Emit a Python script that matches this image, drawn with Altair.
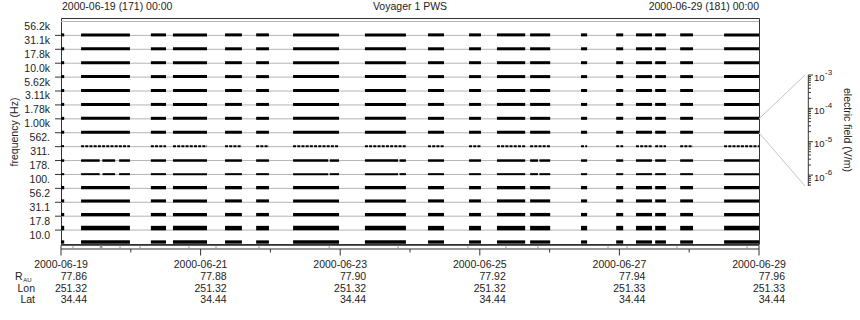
import altair as alt
import pandas as pd

# ---------------- data ----------------
CHANNELS = ['10.0', '17.8', '31.1', '56.2', '100.', '178.', '311.', '562.',
            '1.00k', '1.78k', '3.11k', '5.62k', '10.0k', '17.8k', '31.1k', '56.2k']
# data intervals in hours since 2000-06-19 00:00
INTERVALS = [(0.0, 1.1), (6.9, 23.7), (30.9, 36.1), (38.5, 50.2), (56.4, 62.2), (67.1, 71.5),
             (79.8, 95.6), (104.5, 118.6), (126.2, 131.7), (140.3, 144.4), (149.9, 159.6),
             (161.3, 168.2), (178.8, 180.9), (190.9, 193.3), (197.7, 203.2), (204.3, 208.0),
             (212.9, 217.3), (228.0, 240.0)]
GAPS_311 = [(13.3, 14.2), (18.6, 20.0), (91.9, 92.4), (115.9, 116.4), (164.0, 164.5)]
GAPS_178 = [(13.3, 14.3), (18.6, 20.0), (91.9, 92.4), (115.9, 116.4), (164.0, 164.5)]
STRIP_MARKS = [4.1, 20.3, 27.2, 44.0, 53.3, 68.1, 92.2, 115.9, 139.9, 153.0, 164.0,
               188.1, 194.6, 211.8, 235.9]
STRIP_WIDE = [13.8]
MAJOR_TICKS = [0, 48, 96, 144, 192, 240]
MINOR_TICKS = [24, 72, 120, 168, 216]
DATES = ['2000-06-19', '2000-06-21', '2000-06-23', '2000-06-25', '2000-06-27', '2000-06-29']
R_AU = ['77.86', '77.88', '77.90', '77.92', '77.94', '77.96']
LON = ['251.32', '251.32', '251.32', '251.32', '251.33', '251.33']
LAT = ['34.44', '34.44', '34.44', '34.44', '34.44', '34.44']
CBAR_MAJOR = [1e-3, 1e-4, 1e-5, 1e-6]
CBAR_EXP = ['-3', '-4', '-5', '-6']
CBAR_DOMAIN = [4.7e-7, 1e-3]
ZOOM_CHANNEL = 8  # 1.00k band linked to colour bar

# ---------------- layout / style ----------------
W, H = 698, 226
YMAX = 16.25
PX = H / YMAX
FONT = 'Liberation Sans'
TXT = '#222222'
DARK = '#333333'
# per channel: (stroke width px, lift px)
ROW_STYLE = {0: (3.3, 2.0), 1: (4.5, 2.0), 2: (3.3, 1.6), 3: (3.0, 1.4), 4: (3.3, 0.7),
             5: (2.0, 0.3), 6: (2.5, 0.0), 7: (2.0, 0.5)}


def subtract(intervals, gaps):
    out = []
    for s, e in intervals:
        segs = [(s, e)]
        for gs, ge in gaps:
            new = []
            for a, b in segs:
                if ge <= a or gs >= b:
                    new.append((a, b))
                else:
                    if gs > a:
                        new.append((a, gs))
                    if ge < b:
                        new.append((ge, b))
            segs = new
        out += segs
    return out


rows = []
for v in range(len(CHANNELS)):
    w, lift = ROW_STYLE.get(v, (3.0, 0.5))
    ivs = INTERVALS
    if v == 6:
        ivs = subtract(INTERVALS, GAPS_311)
    elif v == 5:
        ivs = subtract(INTERVALS, GAPS_178)
    for s, e in ivs:
        rows.append({'s': s, 'e': e, 'v': v, 'y': v + lift / PX, 'w': w, 'dot': v == 7})
bars = pd.DataFrame(rows)

xs = alt.Scale(domain=[0, 240], nice=False, zero=False)
ys = alt.Scale(domain=[0, YMAX], nice=False, zero=False)


def X(f):
    return alt.X(f, type='quantitative', scale=xs, axis=None)


def Y(f):
    return alt.Y(f, type='quantitative', scale=ys, axis=None)


one = pd.DataFrame({'a': [0]})


def label(text, x, y, align='left', size=10.5, angle=0, baseline='middle', dy=0):
    kw = dict(text=text, font=FONT, fontSize=size, color=TXT, align=align, baseline=baseline, dy=dy)
    if angle:
        kw['angle'] = angle
    return alt.Chart(one).mark_text(**kw).encode(x=alt.value(x), y=alt.value(y))


grid = alt.Chart(pd.DataFrame({'g': list(range(1, 17))})).mark_rule(
    color='#b4b4b4', strokeWidth=1).encode(x=alt.value(0), x2=alt.value(W), y=Y('g'))

solid = alt.Chart(bars[~bars['dot']]).mark_rule(color='black', strokeCap='butt').encode(
    x=X('s'), x2='e', y=Y('y'), strokeWidth=alt.StrokeWidth('w:Q', scale=None))
dotted = alt.Chart(bars[bars['dot']]).mark_rule(
    color='black', strokeCap='butt', strokeDash=[3, 1.2]).encode(
    x=X('s'), x2='e', y=Y('y'), strokeWidth=alt.StrokeWidth('w:Q', scale=None))

yticks = alt.Chart(pd.DataFrame({'g': list(range(1, 16))})).mark_rule(
    color=DARK).encode(x=alt.value(-6), x2=alt.value(0), y=Y('g'))

ch_df = pd.DataFrame({'c': [v + 0.5 for v in range(len(CHANNELS))], 'lab': CHANNELS})
ch_labels = alt.Chart(ch_df).mark_text(
    font=FONT, fontSize=10.5, color=TXT, align='right', baseline='middle', dy=-1.5).encode(
    x=alt.value(-11), y=Y('c'), text='lab:N')

ytitle = label('frequency (Hz)', -46, 114, align='center', angle=270)
t_left = label('2000-06-19 (171) 00:00', 1, -11)
t_mid = label('Voyager 1 PWS', W / 2, -11, align='center')
t_right = label('2000-06-29 (181) 00:00', W, -11, align='right')

strip = alt.Chart(one).mark_rect(fill='white', stroke=DARK, strokeWidth=1).encode(
    x=alt.value(0), x2=alt.value(W), y=alt.value(227.3), y2=alt.value(231))
strip_marks = alt.Chart(pd.DataFrame({'h': STRIP_MARKS})).mark_rule(
    color='#9a9a9a', strokeWidth=1).encode(x=X('h'), y=alt.value(227.8), y2=alt.value(230.5))
strip_wide = alt.Chart(pd.DataFrame({'h': STRIP_WIDE})).mark_rule(
    color='#9a9a9a', strokeWidth=2.7).encode(x=X('h'), y=alt.value(227.8), y2=alt.value(230.5))

major = alt.Chart(pd.DataFrame({'h': MAJOR_TICKS})).mark_rule(color=DARK).encode(
    x=X('h'), y=alt.value(231), y2=alt.value(237.5))
minor = alt.Chart(pd.DataFrame({'h': MINOR_TICKS})).mark_rule(color=DARK).encode(
    x=X('h'), y=alt.value(231), y2=alt.value(234.5))

bot = pd.DataFrame({'h': MAJOR_TICKS, 'd': DATES, 'r': R_AU, 'lon': LON, 'lat': LAT})
base_t = alt.Chart(bot)
d_lab = base_t.mark_text(font=FONT, fontSize=10.5, color=TXT, align='center',
                         baseline='middle').encode(x=X('h'), y=alt.value(247), text='d:N')
vals = []
for col, yy in [('r', 258.7), ('lon', 270.7), ('lat', 282.3)]:
    vals.append(base_t.mark_text(font=FONT, fontSize=10.5, color=TXT, align='right',
                                 baseline='middle', dx=26).encode(
        x=X('h'), y=alt.value(yy), text=f'{col}:N'))
r_lab = label('R', -38.3, 258.7, align='right')
au_lab = label('AU', -37.7, 261.5, align='left', size=6)
lon_lab = label('Lon', -26, 270.7, align='right')
lat_lab = label('Lat', -26, 282.3, align='right')

conn_df = pd.DataFrame({'h': [240], 'v': [ZOOM_CHANNEL + 1]})
conn_top = alt.Chart(conn_df).mark_rule(color='#c4c4c4').encode(
    x=X('h'), y=Y('v'), x2=alt.value(744), y2=alt.value(57))
conn_df2 = pd.DataFrame({'h': [240], 'v': [ZOOM_CHANNEL]})
conn_bot = alt.Chart(conn_df2).mark_rule(color='#c4c4c4').encode(
    x=X('h'), y=Y('v'), x2=alt.value(744), y2=alt.value(168))

main = alt.layer(grid, solid, dotted, yticks, ch_labels, ytitle, t_left, t_mid, t_right,
                 strip, strip_marks, strip_wide, major, minor, d_lab, *vals,
                 r_lab, au_lab, lon_lab, lat_lab, conn_top, conn_bot)

# ---------- colour bar ----------
cs = alt.Scale(type='log', domain=CBAR_DOMAIN, range=[168, 57], nice=False)
minor_vals = []
for dec in [1e-7, 1e-6, 1e-5, 1e-4]:
    for k in range(2, 10):
        val = k * dec
        if CBAR_DOMAIN[0] <= val < CBAR_DOMAIN[1]:
            minor_vals.append(val)
cb_line = alt.Chart(pd.DataFrame({'a': [CBAR_DOMAIN[1]], 'b': [CBAR_DOMAIN[0]]})).mark_rule(
    color=DARK).encode(x=alt.value(747.3), y=alt.Y('a:Q', scale=cs, axis=None), y2='b:Q')
cb_major = alt.Chart(pd.DataFrame({'e': CBAR_MAJOR})).mark_rule(color=DARK).encode(
    x=alt.value(747.3), x2=alt.value(752), y=alt.Y('e:Q', scale=cs, axis=None))
cb_minor = alt.Chart(pd.DataFrame({'e': minor_vals})).mark_rule(color=DARK).encode(
    x=alt.value(747.3), x2=alt.value(750), y=alt.Y('e:Q', scale=cs, axis=None))
cb_df = pd.DataFrame({'e': CBAR_MAJOR, 'x': CBAR_EXP})
cb_ten = alt.Chart(cb_df).mark_text(font=FONT, fontSize=9.5, color=TXT, align='left',
                                    baseline='middle', dy=2.5, text='10').encode(
    x=alt.value(753), y=alt.Y('e:Q', scale=cs, axis=None))
cb_exp = alt.Chart(cb_df).mark_text(font=FONT, fontSize=8, color=TXT, align='left',
                                    baseline='middle', dy=-2).encode(
    x=alt.value(764), y=alt.Y('e:Q', scale=cs, axis=None), text='x:N')
ef_title = label('electric field (V/m)', 786, 112, align='center', angle=90)

cbar = alt.layer(cb_line, cb_major, cb_minor, cb_ten, cb_exp, ef_title)

chart = alt.layer(main, cbar).resolve_scale(y='independent').properties(
    width=W, height=H,
    padding={'left': 61, 'top': 18, 'right': 101, 'bottom': 76},
    autosize=alt.AutoSizeParams(type='none'),
    background='white',
).configure_view(stroke=DARK, strokeWidth=1)

chart.save('out.html', embed_options={'renderer': 'svg', 'actions': False})
